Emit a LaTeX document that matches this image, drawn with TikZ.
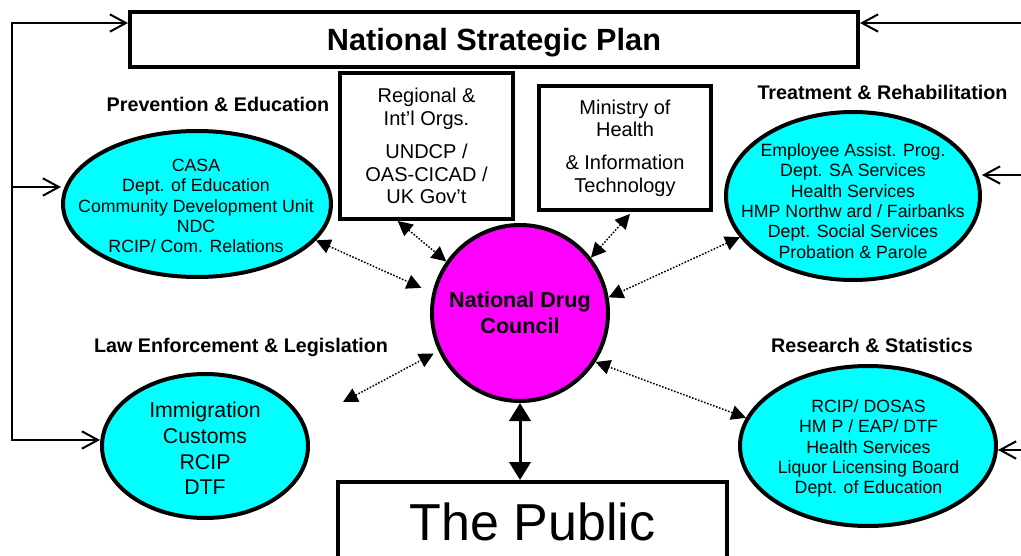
\documentclass[tikz,border=0pt]{standalone}
\usepackage{fontspec}
\setmainfont{Liberation Sans}
\usetikzlibrary{arrows.meta,shapes.geometric}
\definecolor{cyanc}{HTML}{00FFFF}
\definecolor{magentac}{HTML}{FF00FF}
\begin{document}
\begin{tikzpicture}[x=0.75pt,y=-0.75pt,
  thickbox/.style={draw, line width=3pt, rectangle, inner sep=0pt, align=center},
  oval/.style={ellipse, draw, line width=3pt, fill=cyanc, inner sep=0pt},
  ovaltext/.style={align=center, font=\fontsize{13.3}{15.3}\selectfont},
  boxtext/.style={font=\fontsize{15}{17}\selectfont},
  title/.style={font=\fontsize{14.8}{17}\selectfont\bfseries, anchor=base},
  fbarrow/.style={line width=1.5pt, -{Straight Barb[length=12pt,width=13pt]}},
  dotarrow/.style={line width=1.1pt, dash pattern=on 1.2pt off 1.2pt,
    {Triangle[length=11pt,width=11pt]}-{Triangle[length=11pt,width=11pt]}},
  pubarrow/.style={line width=2.25pt,
    {Triangle[length=13.5pt,width=16pt]}-{Triangle[length=13.5pt,width=16pt]}}
]
\useasboundingbox (0,0) rectangle (1021,556);

% boxes
\node[thickbox, minimum width=546pt, minimum height=41.25pt, text depth=0pt,
  font=\fontsize{23}{28}\selectfont\bfseries] (nsp) at (494,39.5) {National Strategic Plan};
\node[thickbox, boxtext, minimum width=129.75pt, minimum height=109.5pt] (reg) at (426.5,146)
  {Regional \&\\Int’l Orgs.\\[8pt]UNDCP /\\OAS-CICAD /\\UK Gov’t};
\node[thickbox, boxtext, minimum width=129pt, minimum height=93pt] (min) at (625,148)
  {Ministry of\\Health\\[7.5pt]\& Information\\Technology};
\node[thickbox, minimum width=291.75pt, minimum height=59.25pt,
  font=\fontsize{39}{45}\selectfont] (pub) at (532.5,521.5) {The Public};

% ellipses
\node[oval, minimum width=201pt, minimum height=109.5pt] (prev) at (197,204) {};
\node[ovaltext] (prevtxt) at (196,206)
  {CASA\\Dept. of Education\\Community Development Unit\\NDC\\RCIP/ Com. Relations};
\node[oval, minimum width=154.5pt, minimum height=108pt] (law) at (205,446) {};
\node[align=center, font=\fontsize{16}{19.3}\selectfont] (lawtxt) at (205,448.5)
  {Immigration\\Customs\\RCIP\\DTF};
\node[oval, minimum width=190.5pt, minimum height=126pt] (treat) at (853,196) {};
\node[ovaltext] (treattxt) at (853,201)
  {Employee Assist. Prog.\\Dept. SA Services\\Health Services\\HMP Northw ard / Fairbanks\\Dept. Social Services\\Probation \& Parole};
\node[oval, minimum width=192pt, minimum height=120pt] (res) at (868,446) {};
\node[ovaltext] (restxt) at (868.5,448.5)
  {RCIP/ DOSAS\\HM P / EAP/ DTF\\Health Services\\Liquor Licensing Board\\Dept. of Education};

% council
\node[circle, draw, line width=3pt, fill=magentac, minimum size=132pt, inner sep=0pt,
  align=center, font=\fontsize{16.2}{19.5}\selectfont\bfseries] (ndc) at (520,313)
  {National Drug\\Council};

% titles
\node[title] (prevtitle) at (218,112) {Prevention \& Education};
\node[title] (treattitle) at (882.5,100) {Treatment \& Rehabilitation};
\node[title] (lawtitle) at (241,352) {Law Enforcement \& Legislation};
\node[title] (restitle) at (872,352) {Research \& Statistics};

% feedback lines
\coordinate (L0) at (12,23);
\coordinate (L1) at (12,187);
\coordinate (L2) at (12,440);
\coordinate (R0) at (1021,23);
\coordinate (R1) at (1021,175);
\coordinate (R2) at (1021,450);
\draw[fbarrow] (L1) -- (L0) -- (L0 -| nsp.west);
\draw[fbarrow] (L1) -- (L2) -- (L2 -| law.west);
\draw[fbarrow] (L1) -- (L1 -| prev.west);
\draw[fbarrow] (R0) -- (R0 -| nsp.east);
\draw[fbarrow] (R1) -- (R1 -| treat.east);
\draw[fbarrow] (R2) -- (R2 -| res.east);

% dotted links
\coordinate (lawfree) at (343,402);
\draw[dotarrow, shorten >=9pt] (prev.-17) -- (ndc.167);
\draw[dotarrow] (reg.-111) -- (ndc.145);
\draw[dotarrow, shorten <=2pt] (min.-84) -- (ndc.38);
\draw[dotarrow] (treat.200) -- (ndc.10);
\draw[dotarrow] (res.167) -- (ndc.-33);
\draw[dotarrow, shorten >=4pt] (lawfree) -- (ndc.205);

% public link
\draw[pubarrow] (ndc.south) -- (ndc.south |- pub.north);
\end{tikzpicture}
\end{document}
